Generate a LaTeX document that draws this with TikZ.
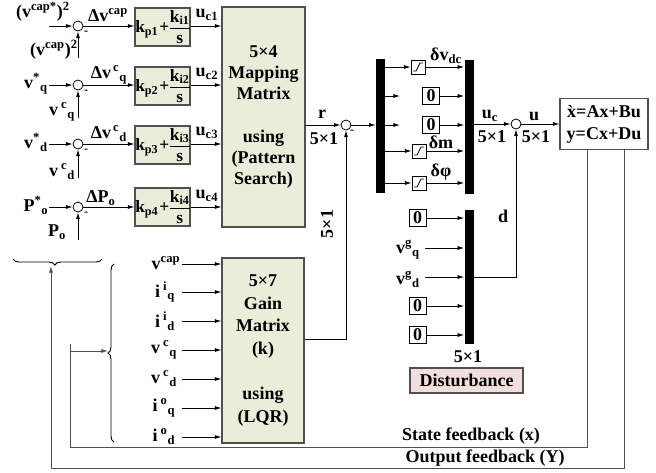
\documentclass[tikz,border=0pt]{standalone}
\usepackage{amsmath}
\usepackage{fontspec}
\setmainfont{Liberation Serif}[BoldFont={Liberation Serif Bold}]
\usetikzlibrary{arrows.meta,decorations.pathreplacing,calc}
\newcommand\sss[3]{#1\textsuperscript{#2}\textsubscript{#3}}
\newcommand\pifrac[1]{{\nulldelimiterspace=0pt k\textsubscript{p#1}\hspace{0.6pt}+\hspace{0.6pt}$\genfrac{}{}{0.6pt}{0}{\hbox{k\textsubscript{i#1}}}{\hbox{s}}$}}
\definecolor{blkgreen}{RGB}{232,238,218}
\definecolor{pinkd}{RGB}{242,222,222}
\definecolor{edge}{RGB}{80,80,80}
\tikzset{
 every node/.style={font=\fontsize{13.5}{16}\selectfont\bfseries, inner sep=0pt},
 blk/.style={draw=edge, fill=blkgreen, line width=0.8pt, align=center},
 piblk/.style={blk, minimum width=41.25pt, minimum height=28.5pt, font=\fontsize{13}{15}\selectfont\bfseries},
 sumc/.style={circle, draw, minimum size=7.5pt, line width=0.6pt},
 bar/.style={fill=black, draw=none, minimum width=6.75pt, minimum height=100.5pt},
 zbox/.style={draw, minimum width=12.75pt, minimum height=12.75pt, line width=0.7pt},
 satbox/.style={draw, minimum width=10.5pt, minimum height=10.5pt, line width=0.6pt},
 arr/.style={-{Latex[length=5pt,width=3pt]}, line width=0.6pt},
 fb/.style={draw=edge, line width=0.7pt},
 mns/.style={font=\fontsize{9}{9}\selectfont\bfseries},
}
\begin{document}
\begin{tikzpicture}[x=0.75pt,y=-0.75pt]
\useasboundingbox (0,0) rectangle (656,472);
% ---- sum junctions left
\node[sumc] (s1) at (78,26) {};
\node[sumc] (s2) at (78,85) {};
\node[sumc] (s3) at (78,144) {};
\node[sumc] (s4) at (78,207) {};
\foreach \s in {s1,s2,s3,s4}{\node[mns] at ($(\s)+(8,7)$) {-};}
% inputs
\node (r1a) at (43,12) {(v\textsuperscript{cap*})\textsuperscript{2}};
\node (r1b) at (54,50) {(v\textsuperscript{cap})\textsuperscript{2}};
\node (r2a) at (36,84) {\sss{v}{*}{q}};
\node (r2b) at (62,112) {\sss{v\,}{c}{q}};
\node (r3a) at (36,142) {\sss{v}{*}{d}};
\node (r3b) at (62,172) {\sss{v\,}{c}{d}};
\node (r4a) at (36,205) {\sss{P}{*}{o}};
\node (r4b) at (57,232) {P\textsubscript{o}};
\coordinate (a1) at (49,26);
\coordinate (a2) at (49,85);
\coordinate (a3) at (49,144);
\coordinate (a4) at (49,207);
\coordinate (b1) at (78,58);
\coordinate (b2) at (78,118);
\coordinate (b3) at (78,178);
\coordinate (b4) at (78,240);
\draw[arr] (a1) -- (s1.west);
\draw[arr] (a2) -- (s2.west);
\draw[arr] (a3) -- (s3.west);
\draw[arr] (a4) -- (s4.west);
\draw[arr] (b1) -- (s1.south);
\draw[arr] (b2) -- (s2.south);
\draw[arr] (b3) -- (s3.south);
\draw[arr] (b4) -- (s4.south);
% PI blocks
\node[piblk] (pi1) at (162.5,27) {\pifrac1};
\node[piblk] (pi2) at (162.5,86) {\pifrac2};
\node[piblk] (pi3) at (162.5,145) {\pifrac3};
\node[piblk] (pi4) at (162.5,207) {\pifrac4};
\node (d1) at (108,15) {Δv\textsuperscript{cap}};
\node (d2) at (109,75) {Δ\sss{v}{\,c}{q}};
\node (d3) at (109,134) {Δ\sss{v}{\,c}{d}};
\node (d4) at (101,198) {ΔP\textsubscript{o}};
\draw[arr] (s1.east) -- (s1 -| pi1.west);
\draw[arr] (s2.east) -- (s2 -| pi2.west);
\draw[arr] (s3.east) -- (s3 -| pi3.west);
\draw[arr] (s4.east) -- (s4 -| pi4.west);
% mapping matrix
\node[blk, minimum width=62.25pt, minimum height=165pt] (map) at (263.5,117)
  {5×4\\Mapping\\Matrix\\[15.75pt]using\\(Pattern\\Search)};
\draw[arr] (pi1.east |- s1) -- (s1 -| map.west);
\draw[arr] (pi2.east |- s2) -- (s2 -| map.west);
\draw[arr] (pi3.east |- s3) -- (s3 -| map.west);
\draw[arr] (pi4.east |- s4) -- (s4 -| map.west);
\node (u1) at (207,15) {u\textsubscript{c1}};
\node (u2) at (207,74) {u\textsubscript{c2}};
\node (u3) at (207,133) {u\textsubscript{c3}};
\node (u4) at (207,196) {u\textsubscript{c4}};
% second sum
\node[sumc] (sr) at (346,125) {};
\node[mns] at ($(sr)+(6,7)$) {-};
\draw[arr] (map.east |- sr) -- (sr.west);
\node (rl) at (322,114) {r};
\node (rd) at (324,139) {5×1};
% bars
\node[bar] (bar1) at (380.5,126) {};
\node[bar] (bar2) at (469,127) {};
\node[bar] (bar3) at (469,277) {};
\draw[arr] (sr.east) -- (sr -| bar1.west);
% saturations and zeros
\node[satbox] (sat1) at (418,67) {};
\node[satbox] (sat2) at (419,151) {};
\node[satbox] (sat3) at (419,183) {};
\foreach \s in {sat1,sat2,sat3}{
  \draw[line width=0.6pt] ($(\s)+(-5,4)$) -- ++(3,0) -- ++(4,-8) -- ++(3,0);}
\node[zbox] (z1) at (431,96) {0};
\node[zbox] (z2) at (431,125) {0};
\coordinate (t1) at (400,96);
\coordinate (t2) at (400,125);
\draw[arr] (bar1.east |- sat1) -- (sat1.west);
\draw[arr] (bar1.east |- t1) -- (t1);
\draw[arr] (bar1.east |- t2) -- (t2);
\draw[arr] (bar1.east |- sat2) -- (sat2.west);
\draw[arr] (bar1.east |- sat3) -- (sat3.west);
\draw[arr] (sat1.east) -- (sat1 -| bar2.west);
\draw[arr] (z1.east) -- (z1 -| bar2.west);
\draw[arr] (z2.east) -- (z2 -| bar2.west);
\draw[arr] (sat2.east) -- (sat2 -| bar2.west);
\draw[arr] (sat3.east) -- (sat3 -| bar2.west);
\node (dv) at (446,56) {δv\textsubscript{dc}};
\node (dm) at (441,142) {δm};
\node (dp) at (441,172) {δφ};
% third sum and plant
\node[sumc] (su) at (516,124) {};
\node[draw=edge, line width=0.8pt, minimum width=66pt, minimum height=38.25pt, align=center,
      font=\fontsize{13.5}{16.5}\selectfont\bfseries] (ss) at (604,124) {\`x=Ax+Bu\\y=Cx+Du};
\draw[arr] (bar2.east |- su) -- (su.west);
\draw[arr] (su.east) -- (su -| ss.west);
\node (ucl) at (490,116) {u\textsubscript{c}};
\node (ucd) at (492,137) {5×1};
\node (ul) at (534,116) {u};
\node (ud) at (536,137) {5×1};
% disturbance
\node[zbox] (z3) at (417.5,218) {0};
\node[zbox] (z4) at (417.5,306) {0};
\node[zbox] (z5) at (417.5,335) {0};
\node (vgq) at (408,250) {\sss{v}{g}{q}};
\node (vgd) at (408,279) {\sss{v}{g}{d}};
\coordinate (vq) at (425,248);
\coordinate (vd) at (425,277);
\draw[arr] (z3.east) -- (z3 -| bar3.west);
\draw[arr] (vq) -- (vq -| bar3.west);
\draw[arr] (vd) -- (vd -| bar3.west);
\draw[arr] (z4.east) -- (z4 -| bar3.west);
\draw[arr] (z5.east) -- (z5 -| bar3.west);
\coordinate (dk) at (516,277);
\draw[arr] (bar3.east |- dk) -- (dk) -- (su.south);
\node (dl) at (503,216) {d};
\node (d5) at (468,357) {5×1};
\node[draw=edge, fill=pinkd, line width=0.8pt, minimum width=84.75pt, minimum height=18.75pt] (dist) at (466.5,380.5) {Disturbance};
% gain matrix
\node[blk, minimum width=61.5pt, minimum height=138.75pt, font=\fontsize{13.5}{16.9}\selectfont\bfseries] (gain) at (263,350.5)
  {5×7\\Gain\\Matrix\\(k)\\[16.9pt]using\\(LQR)};
\coordinate (gk) at (346,339);
\draw[arr] (gain.east |- gk) -- (gk) -- (sr.south);
\node[rotate=90] (g51) at (327,224) {5×1};
\node (g1) at (166,263) {v\textsuperscript{cap}};
\node (g2) at (165,292) {\sss{i\,}{i}{q}};
\node (g3) at (165,321) {\sss{i\,}{i}{d}};
\node (g4) at (164,350) {\sss{v\,}{c}{q}};
\node (g5) at (164,379) {\sss{v\,}{c}{d}};
\node (g6) at (164,408) {\sss{i\,}{o}{q}};
\node (g7) at (164,437) {\sss{i\,}{o}{d}};
\foreach \y/\n in {264/1,292/2,321/3,350/4,379/5,408/6,437/7}{
  \coordinate (gi\n) at (182,\y);
  \draw[arr] (gi\n) -- (gi\n -| gain.west);}
% braces
\draw[decorate, decoration={brace, amplitude=4.5pt, mirror, aspect=0.47}, line width=0.7pt] (13,259) -- (102,259);
\draw[decorate, decoration={brace, amplitude=4.5pt, mirror}, line width=0.7pt] (114,264) -- (114,442);
% feedback
\coordinate (sf) at (587,447);
\coordinate (sfl) at (70,447);
\coordinate (sft) at (70,344);
\coordinate (sfb) at (70,351);
\coordinate (vtip) at (108,351);
\draw[fb] (ss.south -| sf) -- (sf) -- (sfl) -- (sft);
\draw[fb, arr] (sfb) -- (vtip);
\coordinate (of) at (624,468);
\coordinate (ofl) at (51,468);
\coordinate (htip) at (51,266);
\draw[fb, arr] (ss.south -| of) -- (of) -- (ofl) -- (htip);
\node (sftxt) at (471,436) {State feedback (x)};
\node (oftxt) at (485,458) {Output feedback (Y)};
\end{tikzpicture}
\end{document}
